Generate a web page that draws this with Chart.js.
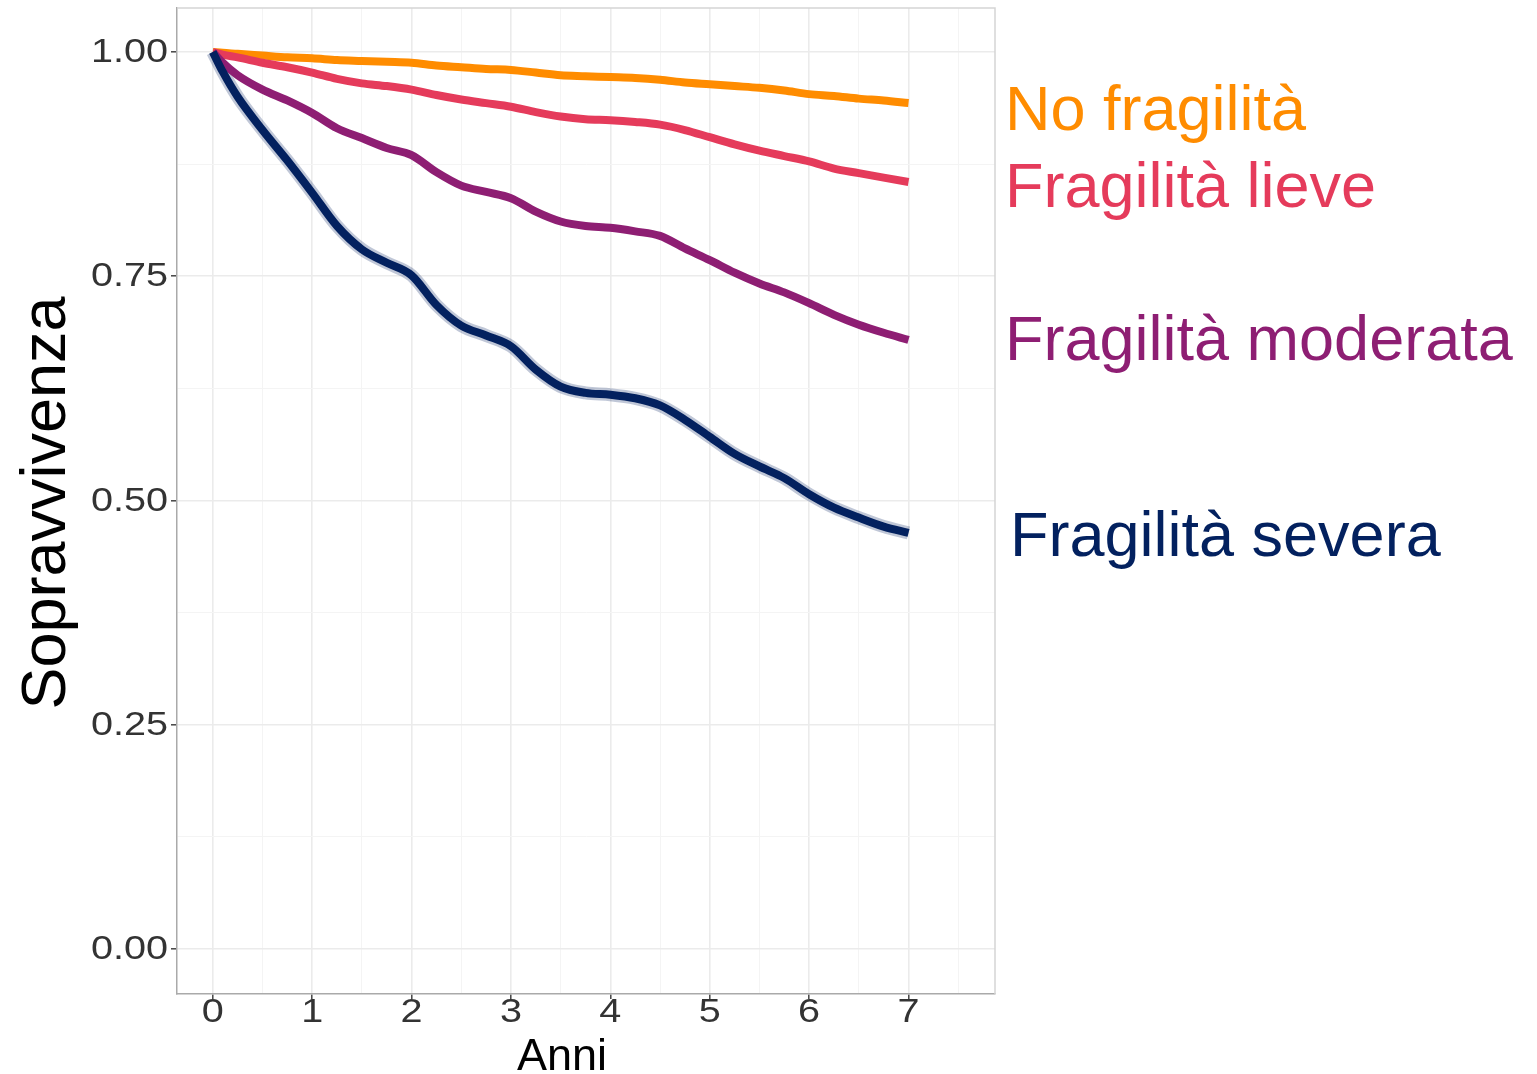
<!DOCTYPE html>
<html lang="it">
<head>
<meta charset="utf-8">
<title>Sopravvivenza per livello di fragilità</title>
<script src="https://cdn.jsdelivr.net/npm/chart.js@4.4.1/dist/chart.umd.min.js"></script>
<style>
  html, body { margin: 0; padding: 0; background: #ffffff; }
</style>
</head>
<body>
<canvas id="survival-chart" width="1537" height="1074"></canvas>
<script>
// anni di follow-up (asse x)
const years = [0, 0.1, 0.25, 0.5, 0.75, 1, 1.25, 1.5, 1.75, 2, 2.25, 2.5, 2.75, 3, 3.25, 3.5,
               3.75, 4, 4.25, 4.5, 4.75, 5, 5.25, 5.5, 5.75, 6, 6.25, 6.5, 6.75, 7];

// sopravvivenza stimata
const noFragility = [1.000, 0.999, 0.998, 0.996, 0.994, 0.993, 0.991, 0.990, 0.989, 0.988, 0.985, 0.983, 0.981, 0.980, 0.977, 0.974,
                     0.973, 0.972, 0.971, 0.969, 0.966, 0.964, 0.962, 0.960, 0.957, 0.953, 0.951, 0.948, 0.946, 0.943];
const mildFragility = [1.000, 0.997, 0.994, 0.988, 0.983, 0.977, 0.970, 0.965, 0.962, 0.958, 0.952, 0.947, 0.943, 0.939, 0.933, 0.928,
                       0.925, 0.924, 0.922, 0.919, 0.913, 0.905, 0.897, 0.890, 0.884, 0.878, 0.870, 0.865, 0.860, 0.855];
const moderateFragility = [1.000, 0.988, 0.974, 0.958, 0.946, 0.932, 0.915, 0.904, 0.893, 0.885, 0.866, 0.851, 0.844, 0.837, 0.822, 0.811,
                           0.806, 0.804, 0.800, 0.795, 0.781, 0.768, 0.754, 0.742, 0.732, 0.720, 0.707, 0.696, 0.687, 0.679];
const severeFragility = [1.000, 0.978, 0.950, 0.913, 0.879, 0.843, 0.806, 0.780, 0.765, 0.751, 0.718, 0.695, 0.684, 0.672, 0.646, 0.627,
                         0.620, 0.618, 0.614, 0.606, 0.590, 0.571, 0.552, 0.538, 0.525, 0.507, 0.492, 0.481, 0.471, 0.464];

const seriesNames = ['No fragilità', 'Fragilità lieve', 'Fragilità moderata', 'Fragilità severa'];
const seriesColors = ['#FF8C00', '#E53B5B', '#8E1E73', '#03215F'];

const xTicks = [0, 1, 2, 3, 4, 5, 6, 7];
const xMinorTicks = [0.5, 1.5, 2.5, 3.5, 4.5, 5.5, 6.5, 7.5];
const yTicks = [0, 0.25, 0.5, 0.75, 1];
const yMinorTicks = [0.125, 0.375, 0.625, 0.875];

const FONT = '"Liberation Sans", Arial, sans-serif';

function toPoints(values) {
    return years.map((t, i) => ({ x: t, y: values[i] }));
}

function lineDataset(label, values, color, order) {
    return {
        label: label,
        data: toPoints(values),
        borderColor: color,
        borderWidth: 8,
        borderCapStyle: 'butt',
        borderJoinStyle: 'round',
        pointRadius: 0,
        fill: false,
        cubicInterpolationMode: 'monotone',
        order: order
    };
}

function isIn(list, v) {
    return list.some(x => Math.abs(x - v) < 1e-9);
}

// etichette dei tick un po' allargate come nell'originale
function drawWideText(ctx, text, x, y, align) {
    const stretch = 1.2;
    ctx.save();
    ctx.translate(x, y);
    ctx.scale(stretch, 1);
    ctx.textAlign = align;
    ctx.fillText(text, 0, 0);
    ctx.restore();
}

// titoli degli assi, etichette, curve e bordo del pannello
const overlayPlugin = {
    id: 'overlay',
    afterDraw(chart) {
        const ctx = chart.ctx;
        const area = chart.chartArea;
        const xScale = chart.scales.x;
        const yScale = chart.scales.y;
        ctx.save();

        ctx.strokeStyle = '#D5D5D5';
        ctx.lineWidth = 1.5;
        ctx.beginPath();
        ctx.moveTo(area.left, area.top);
        ctx.lineTo(area.right, area.top);
        ctx.lineTo(area.right, area.bottom);
        ctx.stroke();

        // tick labels
        ctx.fillStyle = '#333333';
        ctx.font = '33px ' + FONT;
        ctx.textBaseline = 'middle';
        yTicks.forEach(v => {
            drawWideText(ctx, v.toFixed(2), yScale.left + yScale.width - 9, yScale.getPixelForValue(v) + 1, 'right');
        });
        xTicks.forEach(v => {
            drawWideText(ctx, String(v), xScale.getPixelForValue(v), area.bottom + 19, 'center');
        });

        // curve labels
        const labelSpots = [[1005, 130], [1005, 207], [1005, 360], [1010, 556]];
        ctx.font = '63px ' + FONT;
        ctx.textAlign = 'left';
        ctx.textBaseline = 'alphabetic';
        seriesNames.forEach((name, i) => {
            ctx.fillStyle = seriesColors[i];
            ctx.fillText(name, labelSpots[i][0], labelSpots[i][1]);
        });

        // axis titles
        ctx.fillStyle = '#000000';
        ctx.textAlign = 'center';
        ctx.font = '45px ' + FONT;
        ctx.fillText('Anni', 562, 1070);

        ctx.save();
        ctx.translate(65, 503);
        ctx.rotate(-Math.PI / 2);
        ctx.font = '63px ' + FONT;
        ctx.fillText('Sopravvivenza', 0, 0);
        ctx.restore();

        ctx.restore();
    }
};

const ctx = document.getElementById('survival-chart').getContext('2d');

new Chart(ctx, {
    type: 'line',
    data: {
        datasets: [
            {
                label: 'IC Fragilità severa',
                data: toPoints(severeFragility),
                borderColor: 'rgba(3, 33, 95, 0.25)',
                borderWidth: 13,
                borderCapStyle: 'butt',
                pointRadius: 0,
                fill: false,
                cubicInterpolationMode: 'monotone',
                order: 10
            },
            lineDataset(seriesNames[0], noFragility, seriesColors[0], 4),
            lineDataset(seriesNames[1], mildFragility, seriesColors[1], 3),
            lineDataset(seriesNames[2], moderateFragility, seriesColors[2], 2),
            lineDataset(seriesNames[3], severeFragility, seriesColors[3], 1)
        ]
    },
    options: {
        responsive: false,
        animation: false,
        layout: {
            padding: { left: 0, top: 8, right: 542, bottom: 0 }
        },
        scales: {
            x: {
                type: 'linear',
                min: -0.36,
                max: 7.87,
                afterBuildTicks: scale => {
                    scale.ticks = xTicks.concat(xMinorTicks).map(v => ({ value: v }));
                },
                afterFit: scale => {
                    scale.height = 80;
                    scale.paddingLeft = 0;
                    scale.paddingRight = 0;
                },
                ticks: { display: false, autoSkip: false },
                grid: {
                    color: c => isIn(xTicks, c.tick.value) ? '#EBEBEB' : '#F4F4F4',
                    lineWidth: c => isIn(xTicks, c.tick.value) ? 1.6 : 1,
                    tickLength: 5,
                    tickColor: c => isIn(xTicks, c.tick.value) ? '#444444' : 'rgba(0,0,0,0)',
                    tickWidth: 1.5
                },
                border: { display: true, color: '#AAAAAA', width: 1.5 }
            },
            y: {
                type: 'linear',
                min: -0.05,
                max: 1.049,
                afterBuildTicks: scale => {
                    scale.ticks = yTicks.concat(yMinorTicks).map(v => ({ value: v }));
                },
                afterFit: scale => {
                    scale.width = 177;
                    scale.paddingTop = 0;
                    scale.paddingBottom = 0;
                },
                ticks: { display: false, autoSkip: false },
                grid: {
                    color: c => isIn(yTicks, c.tick.value) ? '#EBEBEB' : '#F4F4F4',
                    lineWidth: c => isIn(yTicks, c.tick.value) ? 1.6 : 1,
                    tickLength: 6,
                    tickColor: c => isIn(yTicks, c.tick.value) ? '#444444' : 'rgba(0,0,0,0)',
                    tickWidth: 1.5
                },
                border: { display: true, color: '#AAAAAA', width: 1.5 }
            }
        },
        plugins: {
            legend: { display: false },
            tooltip: { enabled: false }
        }
    },
    plugins: [overlayPlugin]
});
</script>
</body>
</html>
